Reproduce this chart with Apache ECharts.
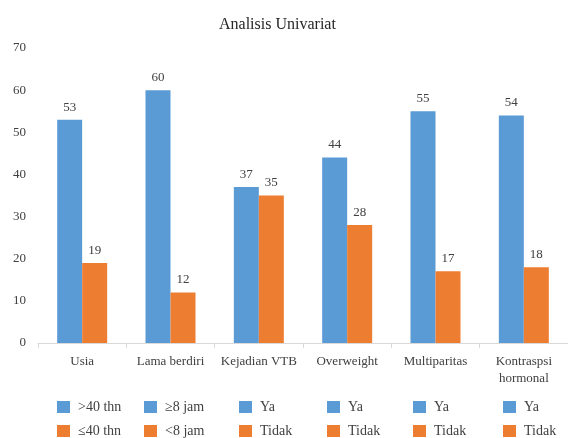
<!DOCTYPE html>
<html>
<head>
<meta charset="utf-8">
<script src="https://cdn.jsdelivr.net/npm/echarts@6/dist/echarts.min.js"></script>
<style>
  html, body { margin: 0; padding: 0; background: #fff; }
  #chart { width: 568px; height: 438px; }
</style>
</head>
<body>
<div id="chart"></div>
<script>
// data
const categories = ['Usia', 'Lama berdiri', 'Kejadian VTB', 'Overweight', 'Multiparitas', 'Kontraspsi\nhormonal']
const blueNames = ['>40 thn', '≥8 jam', 'Ya', 'Ya', 'Ya', 'Ya']
const orangeNames = ['≤40 thn', '<8 jam', 'Tidak', 'Tidak', 'Tidak', 'Tidak']
const blueValues = [53, 60, 37, 44, 55, 54]
const orangeValues = [19, 12, 35, 28, 17, 18]
const yTicks = [0, 10, 20, 30, 40, 50, 60, 70]

const BLUE = '#5B9BD5'
const ORANGE = '#ED7D31'
const TXT = '#404040'
const FONT = 'Liberation Serif'

// each bar is its own series so every one gets a legend entry
let series = []
let legends = []
const legendLeft = [57, 144, 239, 327, 413, 503]

function oneSeries (name, idx, values, color, stack) {
    let data = categories.map(function (c, j) {
        return j === idx ? values[idx] : '-'
    })
    return {
        type: 'bar',
        name: name + '#' + idx,
        stack: stack,
        data: data,
        barWidth: 25,
        barGap: '0%',
        itemStyle: { color: color },
        label: {
            show: true,
            position: 'top',
            distance: 6,
            color: TXT,
            fontFamily: FONT,
            fontSize: 13
        }
    }
}

for (let i = 0; i < categories.length; i++) {
    series.push(oneSeries(blueNames[i], i, blueValues, BLUE, 'blue'))
    series.push(oneSeries(orangeNames[i], i, orangeValues, ORANGE, 'orange'))
    legends.push({
        orient: 'vertical',
        left: legendLeft[i],
        top: 400,
        padding: 0,
        itemGap: 10,
        itemWidth: 13,
        itemHeight: 12,
        icon: 'rect',
        selectedMode: false,
        data: [blueNames[i] + '#' + i, orangeNames[i] + '#' + i],
        formatter: function (n) {
            return n.split('#')[0]
        },
        textStyle: {
            color: TXT,
            fontFamily: FONT,
            fontSize: 14,
            padding: [0, 0, 0, 3]
        }
    })
}

const myChart = echarts.init(document.getElementById('chart'))
let option = {
    animation: false,
    backgroundColor: '#fff',
    title: {
        text: 'Analisis Univariat',
        left: 214,
        top: 12,
        textStyle: {
            color: '#262626',
            fontFamily: FONT,
            fontSize: 16,
            fontWeight: 'normal'
        }
    },
    legend: legends,
    grid: {
        left: 38,
        top: 48,
        width: 535,
        height: 295,
        containLabel: false
    },
    xAxis: {
        type: 'category',
        data: categories,
        axisLine: { lineStyle: { color: '#D9D9D9' } },
        axisTick: { show: true, interval: 0, length: 5, lineStyle: { color: '#D9D9D9' } },
        axisLabel: {
            interval: 0,
            color: TXT,
            fontFamily: FONT,
            fontSize: 13,
            margin: 10,
            lineHeight: 17
        }
    },
    yAxis: {
        type: 'value',
        min: yTicks[0],
        max: yTicks[yTicks.length - 1],
        interval: 10,
        axisLine: { show: false },
        axisTick: { show: false },
        splitLine: { show: false },
        axisLabel: {
            color: TXT,
            fontFamily: FONT,
            fontSize: 13,
            margin: 12
        }
    },
    series: series
}
option && myChart.setOption(option)
</script>
</body>
</html>
